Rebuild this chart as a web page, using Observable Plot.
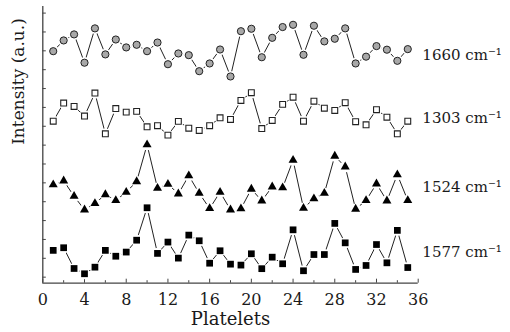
<!DOCTYPE html>
<html><head><meta charset="utf-8">
<script src="https://cdn.jsdelivr.net/npm/d3@7"></script>
<script src="https://cdn.jsdelivr.net/npm/@observablehq/plot@0.6"></script>
<style>html,body{margin:0;padding:0;background:#fff;} svg{display:block}</style>
</head><body><div id="chart"></div>
<script>
const platelets = [1,2,3,4,5,6,7,8,9,10,11,12,13,14,15,16,17,18,19,20,21,22,23,24,25,26,27,28,29,30,31,32,33,34,35];
const s1660 = [11.98,12.55,12.87,11.37,13.19,11.81,12.60,12.18,12.32,11.98,12.44,11.29,11.86,11.77,10.92,11.33,12.07,10.64,13.04,13.17,11.66,12.69,13.26,13.38,11.79,13.33,12.50,12.64,13.19,11.33,11.69,12.25,12.06,11.47,12.09];
const s1303 = [8.27,9.23,9.05,8.54,9.76,7.60,8.94,8.75,8.79,7.97,8.03,7.53,8.26,7.90,7.78,8.03,8.45,8.36,9.37,9.78,7.88,8.31,9.16,9.54,8.27,9.33,8.96,8.84,9.25,8.24,8.08,8.88,8.48,7.60,8.27];
const s1524 = [4.90,5.11,4.29,3.57,3.91,4.38,4.07,4.51,5.07,7.02,4.72,4.93,4.42,5.38,4.45,3.64,4.51,3.57,3.63,4.67,4.05,4.79,4.74,6.20,3.66,4.16,4.45,6.42,5.85,3.61,4.07,4.95,4.05,5.43,4.07];
const s1577 = [1.42,1.56,0.46,0.18,0.53,1.42,1.11,1.33,1.96,3.68,1.26,1.86,1.01,2.23,1.93,0.74,1.40,0.69,0.64,1.24,0.45,1.06,0.71,2.51,0.34,1.20,1.20,2.85,1.82,0.41,0.62,1.73,0.76,2.48,0.51];
const seriesNames = ["1660", "1303", "1524", "1577"];
const seriesLabels = ["1660 cm⁻¹", "1303 cm⁻¹", "1524 cm⁻¹", "1577 cm⁻¹"];
const labelY = [11.75, 8.41, 4.79, 1.35];
const labelX = 36.4;
const xMajorTicks = [0,4,8,12,16,20,24,28,32,36];
const xMinorTicks = [2,6,10,14,18,22,26,30,34];
const yTicks = [0,1,2,3,4,5,6,7,8,9,10,11,12,13,14];
const xTitle = "Platelets";
const yTitle = "Intensity (a.u.)";
const xDomain = [0, 36];
const yDomain = [-0.32, 14.35];

const allSeries = [s1660, s1303, s1524, s1577];
const rows = [];
allSeries.forEach((vals, k) => vals.forEach((v, i) => rows.push({x: platelets[i], y: v, s: seriesNames[k]})));
const of = name => rows.filter(d => d.s === name);
const labels = seriesLabels.map((t, i) => ({t, x: labelX, y: labelY[i]}));

const font = "DejaVu Serif";
const ink = "#1a1a1a";
const chart = Plot.plot({
  width: 510, height: 332,
  marginLeft: 42.3, marginRight: 92.3, marginTop: 6, marginBottom: 49.3,
  style: {fontFamily: font, background: "#fff", color: ink},
  x: {domain: xDomain},
  y: {domain: yDomain},
  marks: [
    Plot.ruleX([xDomain[0]], {stroke: "#444", strokeWidth: 1.3}),
    Plot.ruleY([yDomain[0]], {stroke: "#444", strokeWidth: 1.3}),
    Plot.axisY({ticks: yTicks, tickSize: -3.5, text: null, label: null, stroke: "#444"}),
    Plot.axisX({ticks: xMajorTicks, tickSize: -4, text: null, label: null, stroke: "#444"}),
    Plot.axisX({ticks: xMinorTicks, tickSize: -2.5, text: null, label: null, stroke: "#444"}),
    Plot.axisX({ticks: xMajorTicks, tickSize: 0, tickPadding: 10, fontSize: 16, fontFamily: font, fill: ink, label: null, tickFormat: d => String(d)}),
    Plot.text([xTitle], {frameAnchor: "bottom", dy: 42, fontSize: 18, fontFamily: font, text: d => d, fill: ink}),
    Plot.text([yTitle], {frameAnchor: "left", rotate: -90, dx: -24, fontSize: 17, fontFamily: font, text: d => d, fill: ink}),
    Plot.line(rows, {x: "x", y: "y", z: "s", stroke: "#222", strokeWidth: 1}),
    Plot.dot(rows, {x: "x", y: "y", r: 5.6, fill: "#fff"}),
    Plot.dot(of("1660"), {x: "x", y: "y", r: 3.6, symbol: "circle", fill: "#a8a8a8", stroke: "#222", strokeWidth: 1}),
    Plot.dot(of("1303"), {x: "x", y: "y", r: 3.3, symbol: "square", fill: "#fff", stroke: "#222", strokeWidth: 1.1}),
    Plot.dot(of("1524"), {x: "x", y: "y", r: 3.35, symbol: "triangle", fill: "#000"}),
    Plot.dot(of("1577"), {x: "x", y: "y", r: 3.8, symbol: "square", fill: "#000"}),
    Plot.text(labels, {x: "x", y: "y", text: "t", textAnchor: "start", fontSize: 15, fontFamily: font, fill: ink})
  ]
});
document.getElementById("chart").appendChild(chart);
</script>
</body></html>
